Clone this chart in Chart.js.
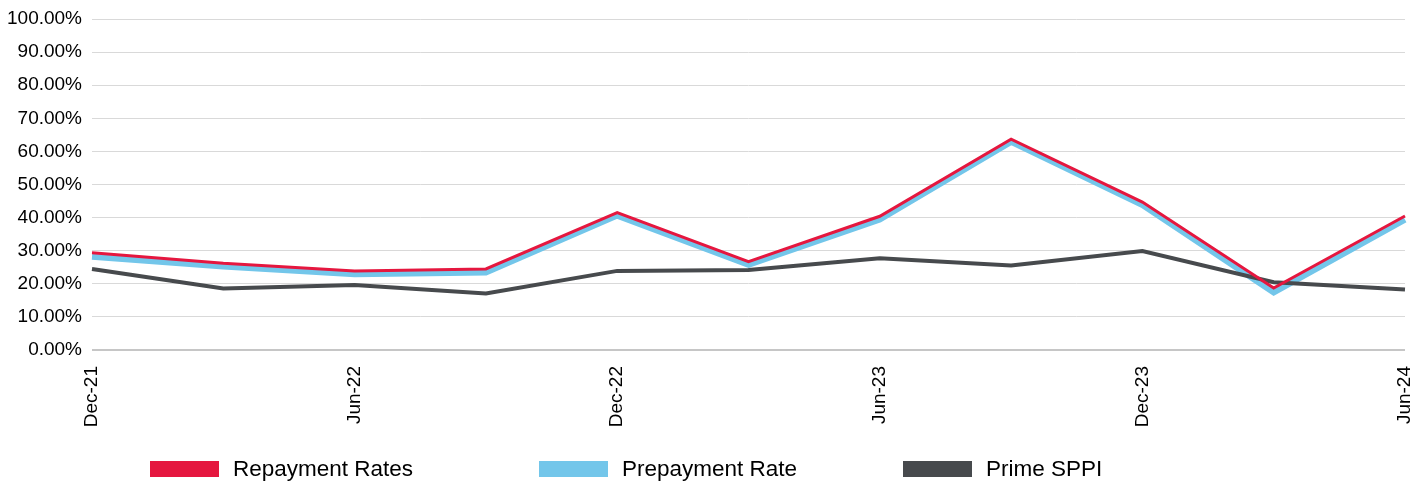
<!DOCTYPE html>
<html>
<head>
<meta charset="utf-8">
<script src="https://cdn.jsdelivr.net/npm/chart.js@4"></script>
<style>
  body { margin: 0; background: #fff; }
  #wrap { position: relative; width: 1427px; height: 481px; }
  .legend-item { position: absolute; top: 456px; display: flex; align-items: center;
    font-family: "Liberation Sans", Arial, sans-serif; font-size: 22.5px; color: #000; }
  .legend-item span.box { display: inline-block; width: 69px; height: 16px; margin-right: 14px; }
</style>
</head>
<body>
<div id="wrap">
  <canvas id="rates-chart" width="1427" height="481"></canvas>
  <div id="legend"></div>
</div>
<script>
// Quarter labels (only every other one is printed on the axis)
const quarters = ['Dec-21', 'Mar-22', 'Jun-22', 'Sep-22', 'Dec-22', 'Mar-23',
                  'Jun-23', 'Sep-23', 'Dec-23', 'Mar-24', 'Jun-24'];

// Series values in percent
const repaymentRates = [29.4, 26.2, 23.9, 24.5, 41.5, 26.7, 40.4, 63.7, 44.7, 18.7, 40.5];
const prepaymentRate = [28.2, 25.2, 22.9, 23.4, 40.6, 25.7, 39.4, 62.9, 43.8, 17.4, 39.4];
const primeSppi      = [24.5, 18.6, 19.6, 17.1, 23.9, 24.2, 27.7, 25.5, 29.9, 20.5, 18.3];

const yTicks = { min: 0, max: 100, step: 10 };

const FONT = '"Liberation Sans", Arial, sans-serif';

const series = [
    { label: 'Repayment Rates', data: repaymentRates, color: '#E5173F', width: 3, order: 1 },
    { label: 'Prepayment Rate', data: prepaymentRate, color: '#73C6EA', width: 6, order: 3 },
    { label: 'Prime SPPI',      data: primeSppi,      color: '#474A4D', width: 4, order: 2 }
];

const ctx = document.getElementById('rates-chart').getContext('2d');
new Chart(ctx, {
    type: 'line',
    data: {
        labels: quarters,
        datasets: series.map(s => ({
            label: s.label,
            data: s.data,
            borderColor: s.color,
            backgroundColor: s.color,
            borderWidth: s.width,
            pointRadius: 0,
            tension: 0,
            order: s.order
        }))
    },
    options: {
        responsive: false,
        animation: false,
        layout: { padding: { top: 19, right: 22, left: 0, bottom: 0 } },
        plugins: {
            legend: { display: false },
            tooltip: { enabled: false }
        },
        scales: {
            x: {
                grid: { display: false },
                border: { display: false },
                ticks: {
                    autoSkip: false,
                    maxRotation: 90,
                    minRotation: 90,
                    padding: 8,
                    color: '#000',
                    font: { family: FONT, size: 19 },
                    callback: (v, i) => (i % 2 === 0 ? quarters[i] : '')
                },
                afterFit: scale => {
                    scale.height = 131;
                    scale.paddingLeft = 0;
                    scale.paddingRight = 0;
                }
            },
            y: {
                min: yTicks.min,
                max: yTicks.max,
                border: { display: false },
                grid: {
                    drawTicks: false,
                    color: c => (c.tick && c.tick.value === 0 ? '#c6c6c6' : '#d9d9d9'),
                    lineWidth: c => (c.tick && c.tick.value === 0 ? 2 : 1)
                },
                ticks: {
                    stepSize: yTicks.step,
                    padding: 10,
                    color: '#000',
                    font: { family: FONT, size: 19 },
                    callback: v => v.toFixed(2) + '%'
                },
                afterFit: scale => {
                    scale.width = 92;
                    scale.paddingTop = 0;
                    scale.paddingBottom = 0;
                }
            }
        }
    }
});

// Legend below the plot, built from the series list
const legendPos = [150, 539, 903];
const legendEl = document.getElementById('legend');
series.forEach((s, i) => {
    const div = document.createElement('div');
    div.className = 'legend-item';
    div.style.left = legendPos[i] + 'px';
    div.innerHTML = `<span class="box" style="background:${s.color}"></span><span>${s.label}</span>`;
    legendEl.appendChild(div);
});
</script>
</body>
</html>
